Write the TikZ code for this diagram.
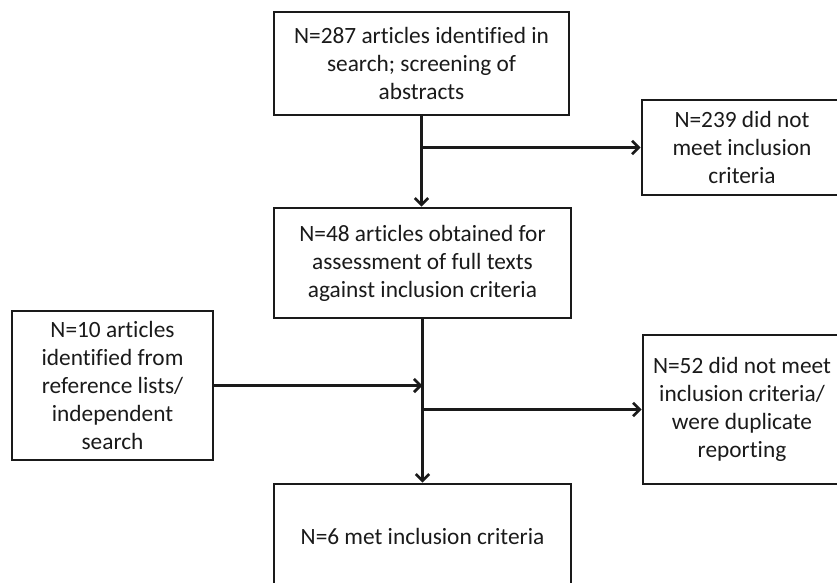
\documentclass[tikz,border=0pt]{standalone}
\usepackage{fontspec}
\setmainfont{Carlito}[Ligatures=NoCommon]
\usetikzlibrary{arrows.meta}
\definecolor{flowInk}{HTML}{1A1A1A}

\begin{document}
\begin{tikzpicture}[x=0.75pt,y=-0.75pt,
    stagebox/.style={draw=flowInk,line width=2pt,align=center,inner sep=0pt,
      font=\fontsize{17.5}{21}\selectfont,text=flowInk},
    flow/.style={draw=flowInk,line width=2pt,-{Straight Barb[length=5pt,width=10pt,line width=2pt]}}]
  \path[use as bounding box] (0,0) rectangle (837,582);
  % main column
  \node[stagebox,minimum width=295*0.75pt,minimum height=103*0.75pt] (search) at (421.5,63.5)
    {N=287 articles identified in\\search; screening of\\abstracts};
  \node[stagebox,minimum width=297*0.75pt,minimum height=110*0.75pt] (fulltext) at (422.5,263)
    {N=48 articles obtained for\\assessment of full texts\\against inclusion criteria};
  \node[stagebox,minimum width=297*0.75pt,minimum height=104*0.75pt] (included) at (422.5,536)
    {N=6 met inclusion criteria};
  % side boxes
  \node[stagebox,minimum width=200*0.75pt,minimum height=95*0.75pt] (excludeA) at (742,147.5)
    {N=239 did not\\meet inclusion\\criteria};
  \node[stagebox,minimum width=198*0.75pt,minimum height=149*0.75pt] (excludeB) at (742,409.5)
    {N=52 did not meet\\inclusion criteria/\\were duplicate\\reporting};
  \node[stagebox,minimum width=201*0.75pt,minimum height=149*0.75pt] (refsearch) at (112.5,385.5)
    {N=10 articles\\identified from\\reference lists/\\independent\\search};
  % connectors
  \coordinate (splitA) at (search.south |- excludeA.west);
  \coordinate (joinB) at (fulltext.south |- refsearch.east);
  \coordinate (splitB) at (fulltext.south |- excludeB.west);
  \draw[flow] (search.south) -- (search.south |- fulltext.north);
  \draw[flow] (splitA) -- (excludeA.west);
  \draw[flow] (fulltext.south) -- (fulltext.south |- included.north);
  \draw[flow] (refsearch.east) -- (joinB);
  \draw[flow] (splitB) -- (excludeB.west);
\end{tikzpicture}
\end{document}
